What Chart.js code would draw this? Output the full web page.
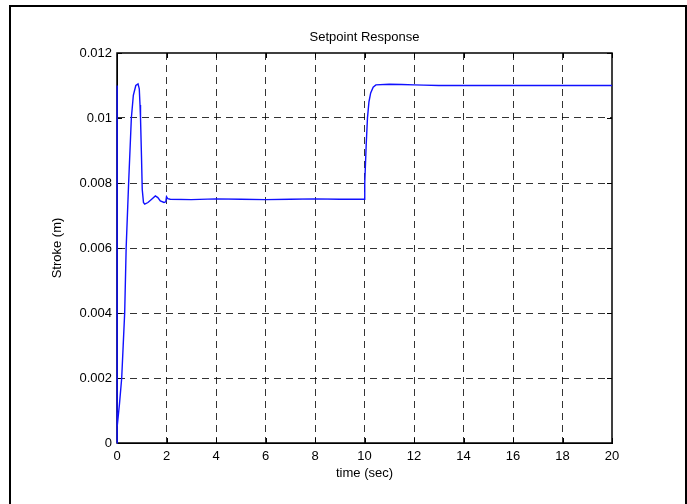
<!DOCTYPE html>
<html>
<head>
<meta charset="utf-8">
<script src="https://cdn.jsdelivr.net/npm/chart.js@4.4.1/dist/chart.umd.min.js"></script>
<style>
  html, body { margin: 0; padding: 0; background: #fff; }
  #wrap { width: 687px; height: 504px; }
</style>
</head>
<body>
<div id="wrap"><canvas id="chartS" width="687" height="504"></canvas></div>
<script>
// stroke response to the setpoint steps (0.0075 m at t=0, 0.011 m at t=10 s)
var timeSec = [0, 0, 0, 0.02, 0.1, 0.19, 0.25, 0.31, 0.37, 0.47, 0.58, 0.66, 0.76, 0.85, 0.9,
  0.93, 0.95, 0.99, 1.02, 1.07, 1.12, 1.25, 1.4, 1.55, 1.65, 1.75, 1.9, 1.97, 2.0, 2.05, 2.15,
  3, 4, 5, 6, 7, 8, 9, 9.98,
  10.0, 10.02, 10.07, 10.12, 10.18, 10.25, 10.35, 10.46, 11, 11.5, 12, 12.4, 13, 20];
var strokeM = [0, 0.011, 0, 0.0005, 0.0012, 0.002, 0.003, 0.004, 0.006, 0.008, 0.01, 0.0107, 0.011, 0.01105, 0.0109,
  0.0104, 0.01, 0.0088, 0.0078, 0.0074, 0.00735, 0.0074, 0.0075, 0.0076, 0.00755, 0.00745, 0.0074, 0.00742, 0.00758, 0.00752, 0.0075,
  0.00749, 0.00751, 0.0075, 0.00749, 0.0075, 0.00751, 0.0075, 0.0075,
  0.0075, 0.008, 0.0092, 0.01, 0.0105, 0.01077, 0.01095, 0.01102, 0.01104, 0.01103, 0.01102, 0.01101, 0.011, 0.011];

var xTicks = [0, 2, 4, 6, 8, 10, 12, 14, 16, 18, 20];
var yTicks = [0, 0.002, 0.004, 0.006, 0.008, 0.01, 0.012];
var yTickLabels = ['0', '0.002', '0.004', '0.006', '0.008', '0.01', '0.012'];

var pts = [];
for (var i = 0; i < timeSec.length; i++) pts.push({x: timeSec[i], y: strokeM[i]});

var FONT = 'Liberation Sans, Arial, sans-serif';

// frame round the figure, box round the axes, inward tick marks, title
var figPlugin = {
  id: 'fig',
  beforeDraw: function(chart) {
    var c = chart.ctx;
    c.save();
    c.fillStyle = '#fff';
    c.fillRect(0, 0, chart.width, chart.height);
    c.strokeStyle = '#000';
    c.lineWidth = 2;
    c.strokeRect(10, 6, 676, 520);
    c.restore();
  },
  beforeDatasetsDraw: function(chart) {
    var c = chart.ctx, a = chart.chartArea;
    var xs = chart.scales.x, ys = chart.scales.y;
    c.save();
    c.strokeStyle = '#000';
    c.lineWidth = 1;
    c.beginPath();
    xTicks.forEach(function(v) {
      var px = Math.round(xs.getPixelForValue(v)) + 0.5;
      c.moveTo(px, a.bottom); c.lineTo(px, a.bottom - 5);
      c.moveTo(px, a.top); c.lineTo(px, a.top + 5);
    });
    yTicks.forEach(function(v) {
      var py = Math.round(ys.getPixelForValue(v)) + 0.5;
      c.moveTo(a.left, py); c.lineTo(a.left + 5, py);
      c.moveTo(a.right, py); c.lineTo(a.right - 5, py);
    });
    c.stroke();
    c.lineWidth = 1.5;
    c.strokeRect(a.left, a.top, a.right - a.left, a.bottom - a.top);
    c.fillStyle = '#000';
    c.font = '13px ' + FONT;
    c.textAlign = 'center';
    c.textBaseline = 'middle';
    c.fillText('Setpoint Response', (a.left + a.right) / 2, 37);
    c.restore();
  }
};

var gridColor = function(ctx) {
  // the edges are covered by the axes box
  var n = ctx.scale.ticks.length;
  return (ctx.index === 0 || ctx.index === n - 1) ? 'rgba(0,0,0,0)' : 'rgba(0,0,0,0.8)';
};

var ctx = document.getElementById('chartS');
var chartS = new Chart(ctx, {
  type: 'line',
  data: {
    datasets: [{
      label: 'Stroke',
      data: pts,
      borderColor: '#1010ff',
      borderWidth: 1.4,
      pointRadius: 0,
      tension: 0,
      fill: false,
      clip: 3
    }]
  },
  plugins: [figPlugin],
  options: {
    responsive: false,
    animation: false,
    layout: { padding: { left: 0, top: 53, right: 75, bottom: 0 } },
    plugins: { legend: { display: false }, tooltip: { enabled: false }, title: { display: false } },
    scales: {
      x: {
        type: 'linear',
        min: 0, max: 20,
        afterBuildTicks: function(s) { s.ticks = xTicks.map(function(v) { return {value: v}; }); },
        afterFit: function(s) { s.height = 61; },
        grid: { drawTicks: false, color: gridColor, lineWidth: 1 },
        border: { display: true, color: '#000', width: 1, dash: [7, 5] },
        ticks: { color: '#000', padding: 6, maxRotation: 0, font: { family: FONT, size: 13 },
          callback: function(v) { return String(v); } },
        title: { display: true, text: 'time (sec)', color: '#000', font: { family: FONT, size: 13 },
          padding: { top: 0, bottom: 23 } }
      },
      y: {
        type: 'linear',
        min: 0, max: 0.012,
        afterBuildTicks: function(s) { s.ticks = yTicks.map(function(v) { return {value: v}; }); },
        afterFit: function(s) { s.width = 117; },
        grid: { drawTicks: false, color: gridColor, lineWidth: 1 },
        border: { display: true, color: '#000', width: 1, dash: [7, 5] },
        ticks: { color: '#000', padding: 5, font: { family: FONT, size: 13 },
          callback: function(v, i) { return yTickLabels[i]; } },
        title: { display: true, text: 'Stroke (m)', color: '#000', font: { family: FONT, size: 13 },
          padding: { top: 50, bottom: 0 } }
      }
    }
  }
});
</script>
</body>
</html>
